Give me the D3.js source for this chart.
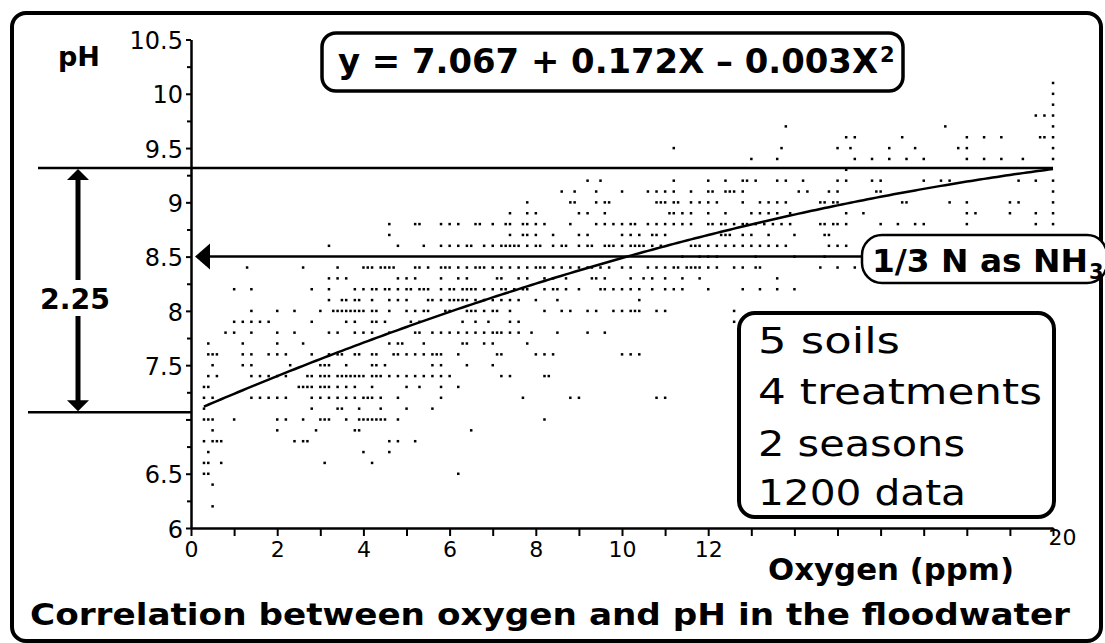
<!DOCTYPE html>
<html lang="en">
<head>
<meta charset="utf-8">
<title>Oxygen and pH in the floodwater</title>
<style>
  body { margin: 0; background: #fff; }
  svg { display: block; }
  text { font-family: "DejaVu Sans", sans-serif; fill: #000; }
  .bold { font-weight: bold; }
</style>
</head>
<body>
<div id="chart"></div>
<script src="https://cdn.jsdelivr.net/npm/d3@7"></script>
<script>
var width = 1105, height = 643;

// scatter, one row per pH level (0.1 steps), oxygen in ppm
var rowPH = [10.1, 10.0, 9.9, 9.8, 9.7, 9.6, 9.5, 9.4, 9.3, 9.2, 9.1, 9.0, 8.9, 8.8, 8.7, 8.6, 8.5,
             8.4, 8.3, 8.2, 8.1, 8.0, 7.9, 7.8, 7.7, 7.6, 7.5, 7.4, 7.3, 7.2, 7.1, 7.0, 6.9, 6.8,
             6.7, 6.6, 6.5, 6.4, 6.2];
var rowOxygen = [
    [20.0],
    [20.0],
    [20.0],
    [19.6, 19.8, 20.0],
    [13.8, 17.5, 20.0],
    [15.2, 15.4, 16.5, 18.0, 18.4, 18.8, 19.7, 19.8, 20.0],
    [11.2, 13.7, 15.0, 15.3, 16.2, 16.8, 17.8, 18.0, 20.0],
    [13.0, 13.6, 15.4, 15.8, 16.2, 16.6, 17.0, 18.0, 18.4, 18.8, 19.3, 20.0],
    [15.2],
    [9.2, 9.5, 11.2, 12.0, 12.4, 12.8, 12.9, 13.1, 13.6, 13.8, 14.2, 15.0, 15.2, 15.8, 16.0, 17.0,
     17.4, 17.6, 19.2, 19.6, 20.0],
    [8.6, 8.9, 9.4, 10.0, 10.6, 10.8, 11.0, 11.2, 11.6, 12.0, 12.1, 12.4, 12.5, 12.6, 12.8, 14.1,
     14.3, 14.8, 15.0, 15.9, 16.0, 20.0],
    [7.8, 8.8, 8.9, 9.4, 9.6, 9.7, 10.8, 10.9, 11.0, 11.2, 11.3, 11.6, 11.8, 12.0, 12.2, 12.8, 13.2,
     13.4, 13.6, 13.8, 14.6, 14.7, 14.9, 15.0, 16.5, 16.6, 17.6, 18.0, 19.0, 19.2, 20.0],
    [7.4, 7.8, 8.0, 9.0, 9.2, 9.6, 11.1, 11.2, 11.4, 11.6, 12.0, 12.4, 13.0, 13.2, 13.4, 13.6, 13.9,
     15.2, 15.6, 18.0, 18.2, 19.0, 19.6, 20.0],
    [4.6, 5.2, 5.3, 5.8, 6.0, 6.2, 6.6, 6.7, 7.0, 7.3, 7.4, 7.7, 7.8, 8.0, 8.2, 8.8, 9.4, 9.6, 9.8,
     10.0, 10.2, 10.3, 10.6, 10.8, 11.0, 11.2, 11.4, 11.6, 12.0, 12.1, 12.3, 12.4, 12.6, 12.8, 12.9,
     13.1, 13.3, 13.5, 13.7, 13.9, 14.6, 14.7, 14.9, 15.0, 15.2, 16.0, 16.4, 16.8, 17.0, 18.0, 19.6, 20.0],
    [4.6, 7.4, 7.7, 7.8, 8.0, 8.4, 9.0, 9.2, 10.0, 10.2, 10.4, 10.7, 10.8, 11.0, 12.3, 12.4, 12.5,
     12.8, 13.0, 13.4, 14.0, 14.7, 14.8],
    [3.2, 4.8, 5.4, 5.8, 6.0, 6.2, 6.4, 6.5, 6.8, 7.0, 7.2, 7.3, 7.4, 7.5, 7.6, 7.8, 8.0, 8.1, 8.4,
     8.6, 8.7, 9.0, 9.2, 9.3, 9.6, 9.7, 9.8, 10.0, 10.2, 10.3, 10.4, 10.5, 10.7, 10.9, 11.6, 11.7,
     11.8, 12.0, 12.2, 12.4, 12.6, 12.8, 13.0, 13.2, 13.4, 13.6, 13.8, 14.8, 15.0, 15.2],
    [11.4, 11.8, 12.0, 12.2, 13.1, 14.0, 14.7],
    [1.3, 2.6, 3.4, 4.0, 4.1, 4.2, 4.4, 4.5, 4.6, 4.7, 5.2, 5.3, 5.5, 5.8, 5.9, 6.0, 6.2, 6.4, 6.6,
     6.7, 6.8, 7.0, 7.2, 7.4, 7.6, 7.8, 8.0, 8.1, 8.2, 8.4, 8.6, 8.8, 9.0, 9.2, 9.3, 9.5, 9.7, 10.0,
     10.2, 10.6, 10.8, 11.0, 11.2, 11.3, 11.5, 11.6, 11.7, 11.8, 12.0, 12.2, 12.6, 12.8, 13.1, 13.2,
     14.6, 15.0, 15.4],
    [3.2, 3.4, 3.6, 4.8, 5.0, 5.2, 5.8, 6.2, 6.4, 7.1, 7.2, 7.6, 7.8, 8.2, 8.4, 8.7, 9.3, 9.4, 9.6,
     10.2, 10.5, 10.7, 11.0, 11.4, 11.8, 13.6],
    [1.0, 1.4, 2.8, 3.2, 3.8, 4.0, 4.2, 4.3, 4.5, 4.6, 4.8, 5.0, 5.1, 5.3, 5.4, 5.5, 5.8, 6.0, 6.1,
     6.3, 6.4, 6.5, 6.6, 6.8, 7.0, 7.2, 7.3, 7.5, 7.7, 7.8, 8.2, 8.4, 8.5, 8.7, 9.0, 9.5, 9.6, 9.8,
     10.0, 10.2, 10.4, 10.7, 11.0, 11.2, 11.4, 12.0, 12.8, 13.2, 13.6, 14.0],
    [3.2, 3.5, 3.6, 3.8, 3.9, 4.2, 4.6, 4.8, 5.0, 5.5, 5.6, 5.8, 6.0, 6.1, 6.2, 6.3, 6.4, 6.6, 6.8,
     7.0, 7.2, 7.4, 7.6, 8.0, 8.5, 10.4],
    [1.4, 2.0, 2.4, 3.0, 3.3, 3.4, 3.5, 3.6, 3.7, 3.8, 3.9, 4.0, 4.2, 4.3, 4.6, 5.0, 5.2, 5.4, 5.5,
     5.9, 6.0, 6.4, 6.5, 6.6, 6.8, 7.0, 7.1, 7.4, 8.2, 8.6, 8.8, 9.2, 9.4, 9.8, 10.0, 10.2, 10.3,
     10.4, 10.8, 11.0, 12.6],
    [1.0, 1.2, 1.4, 1.6, 1.8, 2.8, 3.6, 3.8, 4.2, 4.3, 4.5, 5.1, 5.3, 6.3, 6.6, 6.9, 7.4, 7.6, 12.6],
    [0.8, 1.0, 1.4, 2.0, 2.4, 3.2, 3.4, 3.8, 4.0, 4.2, 4.6, 5.2, 5.3, 5.6, 5.8, 6.0, 6.2, 6.4, 6.6,
     6.8, 7.0, 7.1, 7.2, 7.4, 7.6, 7.9, 8.5, 9.2, 9.6],
    [0.4, 1.2, 2.0, 2.6, 4.6, 4.8, 4.9, 5.4, 6.3, 6.4, 6.8, 7.0, 7.8, 13.0],
    [0.4, 0.5, 0.6, 1.2, 1.4, 1.8, 2.0, 2.2, 2.8, 3.2, 3.4, 3.5, 3.8, 3.9, 4.2, 4.3, 4.7, 4.8, 5.0,
     5.2, 5.4, 5.6, 5.7, 5.8, 6.2, 7.1, 7.2, 8.0, 8.2, 8.4, 10.0, 10.2, 10.4],
    [0.5, 1.2, 1.4, 2.3, 3.0, 3.1, 3.2, 3.6, 4.2, 4.3, 4.5, 5.6, 5.8, 6.4, 7.0, 13.0],
    [0.4, 0.6, 1.4, 1.6, 1.8, 2.0, 2.2, 2.7, 2.8, 3.0, 3.1, 3.2, 3.4, 3.5, 3.6, 3.7, 3.8, 3.9, 4.0,
     4.2, 4.3, 4.4, 4.6, 4.8, 5.0, 5.2, 5.4, 5.6, 5.8, 6.0, 7.2, 7.4, 8.2, 8.3],
    [0.3, 0.4, 2.5, 2.6, 2.7, 2.8, 3.0, 3.1, 3.2, 3.4, 3.6, 3.8, 4.2, 5.0, 5.3, 5.8, 6.2],
    [0.3, 0.5, 1.4, 1.6, 1.8, 2.0, 2.2, 2.8, 3.0, 3.2, 3.4, 3.6, 3.8, 4.0, 4.1, 4.2, 4.4, 4.8, 5.8,
     7.7, 8.8, 9.0, 10.8, 11.0],
    [0.3, 2.8, 3.4, 3.5, 3.9, 4.4, 5.0, 5.6],
    [0.3, 0.4, 0.5, 1.0, 2.0, 2.2, 2.6, 3.0, 3.1, 3.2, 3.6, 3.9, 4.0, 4.1, 4.2, 4.3, 4.4, 4.5, 4.8, 8.2],
    [0.5, 2.0, 2.9, 3.8, 3.9, 6.5],
    [0.3, 0.5, 0.6, 0.7, 2.4, 2.6, 2.7, 4.6, 4.8, 5.2],
    [0.4, 4.0, 4.6],
    [0.3, 0.4, 0.7, 3.1, 4.2],
    [0.3, 0.4, 6.2],
    [0.5],
    [0.5]
];

var yTickValues = [6, 6.5, 7, 7.5, 8, 8.5, 9, 9.5, 10, 10.5];
var yTickLabels = ["6", "6.5", "", "7.5", "8", "8.5", "9", "9.5", "10", "10.5"];
var xTickValues = [0, 2, 4, 6, 8, 10, 12, 20];
var xTickLabels = ["0", "2", "4", "6", "8", "10", "12", "20"];

var fitCoef = [7.067, 0.172, -0.003];   // y = a + bX + cX^2
var fitRange = [0.3, 20];
var rangeTop = 9.317, rangeLabel = "2.25";
var markPH = 8.5, markLabel = "1/3 N as NH", markSub = "3";
var notes = ["5 soils", "4 treatments", "2 seasons", "1200 data"];

var svg = d3.select("#chart").append("svg")
    .attr("width", width).attr("height", height);

var x = d3.scaleLinear().domain([0, 20]).range([191, 1053]);
var y = d3.scaleLinear().domain([6, 10.5]).range([528, 39.5]);

function fit(o) { return fitCoef[0] + fitCoef[1] * o + fitCoef[2] * o * o; }

// outer frame
svg.append("rect")
    .attr("x", 12).attr("y", 13).attr("width", 1089).attr("height", 628)
    .attr("rx", 14).attr("fill", "none").attr("stroke", "#000").attr("stroke-width", 4);

// points
var points = [];
rowPH.forEach(function(ph, i) {
    rowOxygen[i].forEach(function(o) { points.push({o: o, ph: ph}); });
});
svg.append("g").selectAll("rect")
    .data(points).enter()
    .append("rect")
    .attr("x", function(d) { return x(d.o) - 1.2; })
    .attr("y", function(d) { return y(d.ph) - 1.2; })
    .attr("width", 2.5).attr("height", 2.5)
    .attr("fill", "#000");

// regression curve
var line = d3.line()
    .x(function(d) { return x(d); })
    .y(function(d) { return y(fit(d)); });
svg.append("path")
    .datum(d3.range(fitRange[0], fitRange[1] + 0.001, 0.1))
    .attr("d", line)
    .attr("fill", "none").attr("stroke", "#000").attr("stroke-width", 2.5);

// axes
var yAxis = svg.append("g")
    .attr("transform", "translate(" + x(0) + ",0)")
    .call(d3.axisLeft(y).tickValues(yTickValues).tickSize(5).tickSizeOuter(0)
        .tickFormat(function(d, i) { return yTickLabels[i]; }));
svg.append("g")
    .attr("transform", "translate(" + x(0) + ",0)")
    .call(d3.axisLeft(y).tickValues(d3.range(6.25, 10.5, 0.5)).tickSize(4).tickFormat(""))
    .select(".domain").remove();
yAxis.selectAll("text")
    .attr("x", -8).attr("dy", "0.38em")
    .style("font-family", "DejaVu Sans").style("font-size", "24px");

var xAxis = svg.append("g")
    .attr("transform", "translate(0," + y(6) + ")")
    .call(d3.axisBottom(x).tickValues(d3.range(0, 21, 1)).tickSize(8).tickSizeOuter(0)
        .tickFormat(function(d) {
            var k = xTickValues.indexOf(d);
            return k < 0 ? "" : xTickLabels[k];
        }));
xAxis.selectAll("text")
    .attr("x", function(d) { return d === 20 ? 9 : 0; })
    .attr("y", function(d) { return d === 20 ? 17 : 29; }).attr("dy", 0)
    .style("font-family", "DejaVu Sans").style("font-size", "22px");

svg.selectAll(".domain").attr("stroke-width", 2.5);
svg.selectAll(".tick line").attr("stroke-width", 2);

// range lines and double arrow
svg.append("line")
    .attr("x1", 38).attr("x2", x(20)).attr("y1", y(rangeTop)).attr("y2", y(rangeTop))
    .attr("stroke", "#000").attr("stroke-width", 2.5);
svg.append("line")
    .attr("x1", 28).attr("x2", x(0)).attr("y1", y(fitCoef[0])).attr("y2", y(fitCoef[0]))
    .attr("stroke", "#000").attr("stroke-width", 2.5);

var ax = 78, yTop = y(rangeTop), yBot = y(fitCoef[0]);
svg.append("line").attr("x1", ax).attr("x2", ax).attr("y1", yTop + 8).attr("y2", 280)
    .attr("stroke", "#000").attr("stroke-width", 5);
svg.append("line").attr("x1", ax).attr("x2", ax).attr("y1", 316).attr("y2", yBot - 8)
    .attr("stroke", "#000").attr("stroke-width", 5);
svg.append("path")
    .attr("d", "M" + ax + "," + (yTop + 1) + "L" + (ax - 11) + "," + (yTop + 12) + "L" + (ax + 11) + "," + (yTop + 12) + "Z")
    .attr("fill", "#000");
svg.append("path")
    .attr("d", "M" + ax + "," + (yBot - 1) + "L" + (ax - 11) + "," + (yBot - 12) + "L" + (ax + 11) + "," + (yBot - 12) + "Z")
    .attr("fill", "#000");
svg.append("text")
    .attr("class", "bold")
    .attr("x", 40).attr("y", 309)
    .attr("textLength", 70).attr("lengthAdjust", "spacingAndGlyphs")
    .style("font-size", "29px")
    .text(rangeLabel);

// pH 8.5 arrow
var ym = y(markPH);
svg.append("line").attr("x1", 205).attr("x2", 864).attr("y1", ym).attr("y2", ym)
    .attr("stroke", "#000").attr("stroke-width", 2.5);
svg.append("path")
    .attr("d", "M195," + ym + "L210," + (ym - 13) + "L210," + (ym + 13) + "Z")
    .attr("fill", "#000");

// labels
svg.append("text").attr("class", "bold")
    .attr("x", 58).attr("y", 66)
    .attr("textLength", 42).attr("lengthAdjust", "spacingAndGlyphs")
    .style("font-size", "26px").text("pH");

svg.append("text").attr("class", "bold")
    .attr("x", 768).attr("y", 580)
    .attr("textLength", 246).attr("lengthAdjust", "spacingAndGlyphs")
    .style("font-size", "30px").text("Oxygen (ppm)");

svg.append("text").attr("class", "bold")
    .attr("x", 30).attr("y", 625)
    .attr("textLength", 1040).attr("lengthAdjust", "spacingAndGlyphs")
    .style("font-size", "30px")
    .text("Correlation between oxygen and pH in the floodwater");

// equation box
svg.append("rect")
    .attr("x", 322).attr("y", 33).attr("width", 581).attr("height", 58).attr("rx", 14)
    .attr("fill", "#fff").attr("stroke", "#000").attr("stroke-width", 3.5);
var eq = "y = " + fitCoef[0].toFixed(3) + " + " + fitCoef[1].toFixed(3) + "X \u2013 " +
    Math.abs(fitCoef[2]).toFixed(3) + "X";
svg.append("text").attr("class", "bold")
    .attr("x", 338).attr("y", 73)
    .attr("textLength", 540).attr("lengthAdjust", "spacingAndGlyphs")
    .style("font-size", "33px").text(eq);
svg.append("text").attr("class", "bold")
    .attr("x", 880).attr("y", 62)
    .style("font-size", "21px").text("2");

// NH3 box
svg.append("rect")
    .attr("x", 862).attr("y", 235).attr("width", 245).attr("height", 48).attr("rx", 20)
    .attr("fill", "#fff").attr("stroke", "#000").attr("stroke-width", 2.5);
svg.append("text").attr("class", "bold")
    .attr("x", 872).attr("y", 272)
    .attr("textLength", 216).attr("lengthAdjust", "spacingAndGlyphs")
    .style("font-size", "32px").text(markLabel);
svg.append("text").attr("class", "bold")
    .attr("x", 1089).attr("y", 279)
    .style("font-size", "21px").text(markSub);

// notes box
svg.append("rect")
    .attr("x", 739).attr("y", 313).attr("width", 315).attr("height", 204).attr("rx", 16)
    .attr("fill", "#fff").attr("stroke", "#000").attr("stroke-width", 4);
var noteY = [353, 404, 456, 505], noteW = [142, 284, 207, 208];
svg.append("g").selectAll("text")
    .data(notes).enter()
    .append("text")
    .attr("x", 758)
    .attr("y", function(d, i) { return noteY[i]; })
    .attr("textLength", function(d, i) { return noteW[i]; })
    .attr("lengthAdjust", "spacingAndGlyphs")
    .style("font-size", "36px")
    .text(function(d) { return d; });
</script>
</body>
</html>
